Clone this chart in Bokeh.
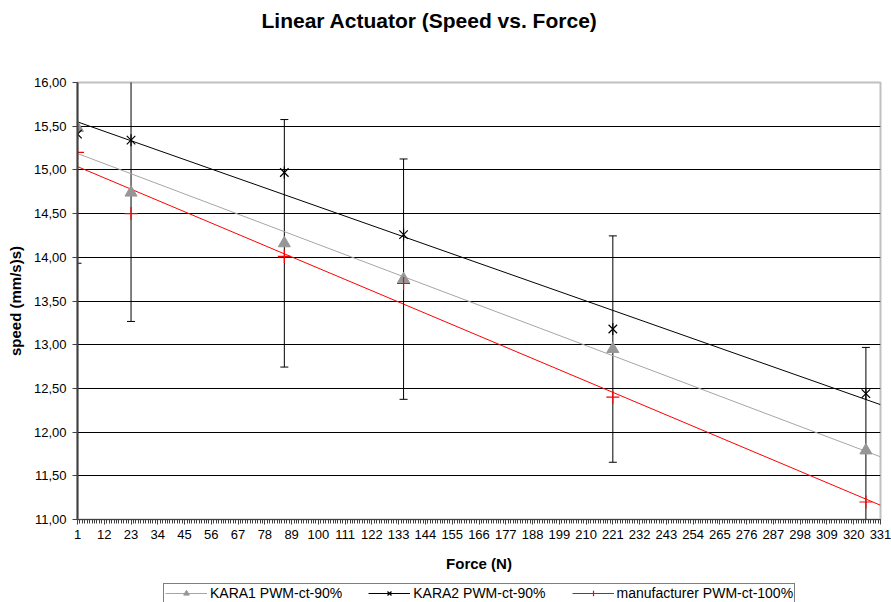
import numpy as np
from bokeh.plotting import figure
from bokeh.layouts import column
from bokeh.models import Range1d, FixedTicker, Legend, LegendItem, Title
from bokeh.embed import file_html
from bokeh.resources import INLINE

# ---- data ----
force = [1, 23, 86, 135, 221, 325]
kara1 = [15.48, 14.74, 14.16, 13.75, 12.95, 11.79]
kara2 = [15.41, 15.34, 14.97, 14.26, 13.18, 12.44]
manufacturer = [15.20, 14.50, 14.01, 13.70, 12.40, 11.20]
error_percent = 10  # percentage error bars on KARA1

x_ticks = list(range(1, 332, 11))
y_ticks = [11.0, 11.5, 12.0, 12.5, 13.0, 13.5, 14.0, 14.5, 15.0, 15.5, 16.0]
y_tick_labels = ["11,00", "11,50", "12,00", "12,50", "13,00", "13,50",
                 "14,00", "14,50", "15,00", "15,50", "16,00"]

title_text = "Linear Actuator (Speed vs. Force)"
x_label = "Force (N)"
y_label = "speed (mm/s)s)"
names = ["KARA1 PWM-ct-90%", "KARA2 PWM-ct-90%", "manufacturer PWM-ct-100%"]

FONT = "Liberation Sans"
X0, X1 = 1, 331
Y0, Y1 = 11, 16

C_K1 = "#969696"
C_K1_TREND = "#a6a6a6"
C_K2 = "black"
C_MF = "red"

p = figure(width=891, height=583, x_range=Range1d(X0, X1), y_range=Range1d(Y0, Y1),
           output_backend="svg", toolbar_location=None,
           min_border_left=77, min_border_right=11, min_border_top=82, min_border_bottom=64)
p.background_fill_color = "white"
p.border_fill_color = "white"
p.outline_line_color = "#c0c0c0"
p.outline_line_width = 2

# spacer between frame and title, then the title itself
p.add_layout(Title(text=" ", text_font_size="30.5px"), "above")
p.title.text = title_text
p.title.align = "left"
p.title.offset = 184
p.title.text_font = FONT
p.title.text_font_size = "21px"
p.title.text_font_style = "bold"
p.title.text_color = "black"

# axes
p.xaxis.ticker = FixedTicker(ticks=x_ticks, minor_ticks=list(range(X0, X1 + 1)))
p.yaxis.ticker = FixedTicker(ticks=y_ticks, minor_ticks=[])
p.yaxis.major_label_overrides = {t: l for t, l in zip(y_ticks, y_tick_labels)}
for ax in (p.xaxis, p.yaxis):
    ax.axis_line_color = "#404040"
    ax.axis_line_width = 1
    ax.major_tick_line_color = "#404040"
    ax.minor_tick_line_color = "#404040"
    ax.major_tick_in = 0
    ax.major_tick_out = 5
    ax.minor_tick_in = 0
    ax.major_label_text_font = FONT
    ax.major_label_text_font_size = "13px"
    ax.major_label_text_color = "black"
    ax.axis_label_text_font = FONT
    ax.axis_label_text_font_size = "15px"
    ax.axis_label_text_font_style = "bold"
    ax.axis_label_text_color = "black"
p.xaxis.minor_tick_out = 4
p.yaxis.minor_tick_out = 0
p.yaxis.axis_line_width = 2
p.xaxis.major_label_standoff = 5
p.yaxis.major_label_standoff = 6
p.xaxis.axis_label = x_label
p.yaxis.axis_label = y_label
p.xaxis.axis_label_standoff = 13
p.yaxis.axis_label_standoff = 7

p.xgrid.grid_line_color = None
p.ygrid.ticker = FixedTicker(ticks=y_ticks)
p.ygrid.grid_line_color = "black"
p.ygrid.grid_line_width = 1

# error bars (percentage of KARA1 values)
err = [v * error_percent / 100 for v in kara1]
lower = [v - e for v, e in zip(kara1, err)]
upper = [v + e for v, e in zip(kara1, err)]
p.segment(x0=force, y0=lower, x1=force, y1=upper, line_color="black", line_width=1)
p.scatter(x=force + force, y=lower + upper, marker="dash", size=8, line_color="black",
          line_width=1)

# trendlines (linear fits of each series)
tx = np.array([X0, X1], dtype=float)
def trend(y):
    m, b = np.polyfit(force, y, 1)
    return m * tx + b

def draw_series(fig):
    t1 = fig.line(tx, trend(kara1), line_color=C_K1_TREND, line_width=1)
    t2 = fig.line(tx, trend(kara2), line_color=C_K2, line_width=1)
    t3 = fig.line(tx, trend(manufacturer), line_color=C_MF, line_width=1)
    m1 = fig.scatter(force, kara1, marker="triangle", size=12, fill_color=C_K1,
                     line_color=C_K1)
    m2a = fig.scatter(force, kara2, marker="x", size=12, line_color=C_K2, line_width=1.2)
    m2b = fig.scatter(force, kara2, marker="dash", angle=np.pi / 2, size=12,
                      line_color=C_K2, line_width=1.2)
    m3 = fig.scatter(force, manufacturer, marker="cross", size=13, line_color=C_MF,
                     line_width=1.2)
    return [[t1, m1], [t2, m2a, m2b], [t3, m3]]

draw_series(p)

# legend strip below the chart (its own figure; series drawn out of its view)
lg = figure(width=891, height=19, x_range=Range1d(0, 1), y_range=Range1d(0, 1),
            output_backend="svg", toolbar_location=None, x_axis_type=None,
            y_axis_type=None, min_border=0)
lg.outline_line_color = None
lg.background_fill_color = "white"
lg.border_fill_color = "white"
lg.xgrid.visible = False
lg.ygrid.visible = False
groups = draw_series(lg)

legend = Legend(items=[LegendItem(label=n, renderers=r) for n, r in zip(names, groups)],
                orientation="horizontal", location=(86, -1))
legend.label_text_font = FONT
legend.label_text_font_size = "14px"
legend.label_text_color = "black"
legend.border_line_color = "black"
legend.border_line_width = 1
legend.background_fill_color = "white"
legend.background_fill_alpha = 1
legend.glyph_width = 42
legend.glyph_height = 14
legend.label_height = 14
legend.label_standoff = 3
legend.spacing = 26
legend.padding = 1
legend.margin = 0
lg.add_layout(legend, "center")

layout = column(p, lg, spacing=0)
open("out.html", "w").write(file_html(layout, INLINE))
